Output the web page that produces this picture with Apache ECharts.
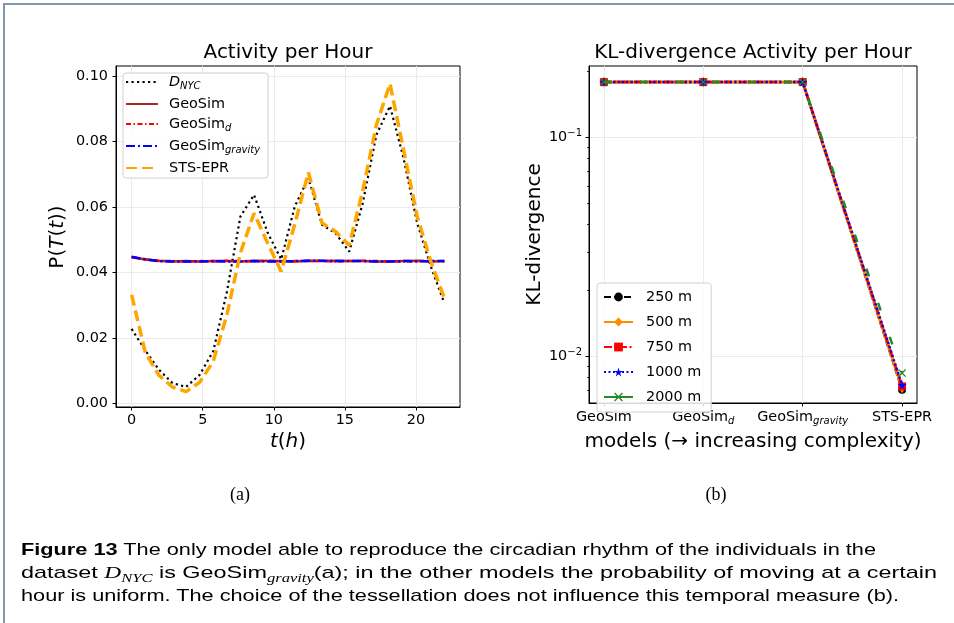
<!DOCTYPE html>
<html><head><meta charset="utf-8">
<script src="https://cdn.jsdelivr.net/npm/echarts@6/dist/echarts.min.js"></script>
<style>
html,body{margin:0;padding:0;background:#fff;}
#wrap{position:relative;width:954px;height:623px;overflow:hidden;background:#fff;}
#chart{position:absolute;left:0;top:0;width:954px;height:623px;}
#frame{position:absolute;left:3px;top:3px;right:-10px;bottom:-10px;border-top:2px solid #7f96b4;border-left:2px solid #7f96b4;pointer-events:none;}
.cap{position:absolute;left:21px;white-space:nowrap;font-family:'Liberation Sans',Arial,sans-serif;font-size:17px;color:#000;transform-origin:0 50%;line-height:22px;}
.m{font-family:'Liberation Serif','DejaVu Serif',serif;font-style:italic;}
.sub{font-size:12px;position:relative;top:4px;}
.lab{position:absolute;font-family:'Liberation Serif','DejaVu Serif',serif;font-size:18px;transform:translate(-50%,-50%);white-space:nowrap;}
</style></head>
<body>
<div id="wrap">
<div id="chart"></div>
<div id="frame"></div>
<div class="lab" style="left:240px;top:494px">(a)</div>
<div class="lab" style="left:716px;top:494px">(b)</div>
<div class="cap" id="c1" style="top:539px"><b>Figure 13</b> The only model able to reproduce the circadian rhythm of the individuals in the</div>
<div class="cap" id="c2" style="top:562px">dataset <span class="m">D<span class="sub">NYC</span></span> is GeoSim<span class="m sub">gravity</span>(a); in the other models the probability of moving at a certain</div>
<div class="cap" id="c3" style="top:585px">hour is uniform. The choice of the tessellation does not influence this temporal measure (b).</div>
</div>
<script>
// ---------- data ----------
const hours = [0, 0.9565, 1.9130, 2.8696, 3.8261, 4.7826, 5.7391, 6.6957, 7.6522, 8.6087, 9.5652, 10.5217,
  11.4783, 12.4348, 13.3913, 14.3478, 15.3043, 16.2609, 17.2174, 18.1739, 19.1304, 20.0870, 21.0435, 22];
const dNYC = [0.0228, 0.0163, 0.0104, 0.0063, 0.0051, 0.0088, 0.0160, 0.0340, 0.0571, 0.0637, 0.0522, 0.0440,
  0.0602, 0.0688, 0.0546, 0.0520, 0.0464, 0.0612, 0.0820, 0.0908, 0.0749, 0.0551, 0.0419, 0.0307];
const geoSim = [0.0447, 0.0440, 0.0436, 0.0434, 0.0435, 0.0434, 0.0435, 0.0435, 0.0434, 0.0436, 0.0435, 0.0435,
  0.0434, 0.0436, 0.0435, 0.0436, 0.0435, 0.0435, 0.0434, 0.0434, 0.0435, 0.0436, 0.0434, 0.0435];
const geoSimD = [0.0447, 0.0441, 0.0435, 0.0435, 0.0434, 0.0435, 0.0434, 0.0436, 0.0435, 0.0434, 0.0436, 0.0434,
  0.0435, 0.0435, 0.0436, 0.0434, 0.0435, 0.0436, 0.0435, 0.0434, 0.0434, 0.0435, 0.0435, 0.0434];
const geoSimGravity = [0.0448, 0.0440, 0.0435, 0.0434, 0.0434, 0.0434, 0.0435, 0.0434, 0.0434, 0.0435, 0.0434, 0.0434,
  0.0435, 0.0436, 0.0436, 0.0435, 0.0435, 0.0435, 0.0434, 0.0434, 0.0435, 0.0434, 0.0435, 0.0435];
const stsEpr = [0.0332, 0.0157, 0.0087, 0.0051, 0.0037, 0.0065, 0.0129, 0.0270, 0.0460, 0.0581, 0.0490, 0.0403,
  0.0548, 0.0705, 0.0551, 0.0525, 0.0483, 0.0650, 0.0850, 0.0976, 0.0774, 0.0571, 0.0434, 0.0322];
const hourTicks = [0, 5, 10, 15, 20];
const probTicks = [0, 0.02, 0.04, 0.06, 0.08, 0.10];

const models = ['GeoSim', 'GeoSim_d', 'GeoSim_gravity', 'STS-EPR'];
const modelPos = [0, 1, 2, 3];
const kl250 = [0.179, 0.179, 0.179, 0.00705];
const kl500 = [0.179, 0.179, 0.179, 0.0072];
const kl750 = [0.179, 0.179, 0.179, 0.0073];
const kl1000 = [0.179, 0.179, 0.179, 0.0074];
const kl2000 = [0.179, 0.179, 0.179, 0.0084];
const klMajorTicks = [0.01, 0.1];
const klMinorTicks = [0.007, 0.008, 0.009, 0.02, 0.03, 0.04, 0.05, 0.06, 0.07, 0.08, 0.09, 0.2];

// ---------- helpers ----------
const FONT = 'DejaVu Sans';
const pairs = (xs, ys) => xs.map((x, i) => [x, ys[i]]);
const STAR = 'path://M50,0 L61.2,34.5 L97.6,34.5 L68.2,55.9 L79.4,90.5 L50,69.1 L20.6,90.5 L31.8,55.9 L2.4,34.5 L38.8,34.5 Z';
const XMARK = 'path://M0,11 L11,0 L50,39 L89,0 L100,11 L61,50 L100,89 L89,100 L50,61 L11,100 L0,89 L39,50 Z';

const richBase = {
  n: {fontFamily: FONT, fontSize: 14.4, color: '#000', lineHeight: 18},
  i: {fontFamily: FONT, fontSize: 14.4, color: '#000', lineHeight: 18, fontStyle: 'italic'},
  s: {fontFamily: FONT, fontSize: 10, color: '#000', lineHeight: 10, fontStyle: 'italic', verticalAlign: 'bottom'},
  p: {fontFamily: FONT, fontSize: 10, color: '#000', lineHeight: 10, verticalAlign: 'top'}
};
const richBig = {
  n: {fontFamily: FONT, fontSize: 20, color: '#000', lineHeight: 24},
  i: {fontFamily: FONT, fontSize: 20, color: '#000', lineHeight: 24, fontStyle: 'italic'}
};
function subLabel(name) {
  const k = name.indexOf('_');
  if (k < 0) return '{n|' + name + '}';
  return '{n|' + name.slice(0, k) + '}{s|' + name.slice(k + 1) + '}';
}
const leftLegendText = {
  'DNYC': '{i|D}{s|NYC}', 'GeoSim': '{n|GeoSim}', 'GeoSim_d': '{n|GeoSim}{s|d}',
  'GeoSim_gravity': '{n|GeoSim}{s|gravity}', 'STS-EPR': '{n|STS-EPR}'
};

const axisLineStyle = {show: true, onZero: false, lineStyle: {color: '#000', width: 1}};
const gridLine = {show: true, lineStyle: {color: '#ebebeb', width: 1}};
const tickStyle = {show: true, length: 3.5, lineStyle: {color: '#000', width: 1}};

function lineSeries(name, ys, lineStyle, z) {
  return {name, type: 'line', xAxisIndex: 0, yAxisIndex: 0, data: pairs(hours, ys), symbol: 'none',
    lineStyle, itemStyle: {color: lineStyle.color}, z, silent: true, emphasis: {disabled: true}};
}
function klSeries(name, ys, color, symbol, symbolSize, lineStyle, z) {
  return {name, type: 'line', xAxisIndex: 1, yAxisIndex: 1, data: pairs(modelPos, ys), symbol, symbolSize,
    showSymbol: true, itemStyle: {color}, lineStyle: Object.assign({color}, lineStyle), z, silent: true,
    emphasis: {disabled: true}};
}

const option = {
  animation: false,
  backgroundColor: 'transparent',
  grid: [
    {left: 116, top: 66, width: 344, height: 341, show: true, borderColor: '#000', borderWidth: 1, outerBoundsMode: 'none'},
    {left: 589, top: 66, width: 328, height: 337, show: true, borderColor: '#000', borderWidth: 1, outerBoundsMode: 'none'}
  ],
  xAxis: [
    {gridIndex: 0, type: 'value', min: -1.1, max: 23.1, axisLine: axisLineStyle,
      axisTick: Object.assign({customValues: hourTicks}, tickStyle),
      axisLabel: {customValues: hourTicks, color: '#000', fontFamily: FONT, fontSize: 14.4, margin: 6},
      splitLine: gridLine},
    {gridIndex: 1, type: 'value', min: -0.15, max: 3.15, axisLine: axisLineStyle,
      axisTick: Object.assign({customValues: modelPos}, tickStyle),
      axisLabel: {customValues: modelPos, margin: 5, formatter: v => subLabel(models[Math.round(v)]), rich: richBase},
      splitLine: gridLine}
  ],
  yAxis: [
    {gridIndex: 0, type: 'value', min: -0.001, max: 0.103, axisLine: axisLineStyle,
      axisTick: Object.assign({customValues: probTicks}, tickStyle),
      axisLabel: {customValues: probTicks, color: '#000', fontFamily: FONT, fontSize: 14.4, margin: 8,
        formatter: v => v.toFixed(2)},
      splitLine: gridLine},
    {gridIndex: 1, type: 'log', logBase: 10, min: 0.006131, max: 0.212, position: 'left', axisLine: axisLineStyle,
      axisTick: Object.assign({customValues: klMajorTicks}, tickStyle),
      axisLabel: {customValues: klMajorTicks, margin: 7,
        formatter: v => '{n|10}{p|' + (v < 0.03 ? '\u22122' : '\u22121') + '}', rich: richBase},
      splitLine: gridLine, minorTick: {show: false}},
    {gridIndex: 1, type: 'log', logBase: 10, min: 0.006131, max: 0.212, position: 'left',
      axisLine: {show: false, onZero: false},
      axisTick: {show: true, customValues: klMinorTicks, length: 2, lineStyle: {color: '#000', width: 0.8}},
      axisLabel: {show: false, customValues: klMinorTicks}, splitLine: {show: false}}
  ],
  legend: [
    {orient: 'vertical', left: 123, top: 73, itemWidth: 32, itemHeight: 14, itemGap: 6,
      padding: [2, 8, 3, 2], backgroundColor: 'rgba(255,255,255,0.85)', borderColor: '#d0d0d0', borderWidth: 1,
      borderRadius: 3, selectedMode: false, itemStyle: {opacity: 0},
      data: ['DNYC', 'GeoSim', 'GeoSim_d', 'GeoSim_gravity', 'STS-EPR'],
      formatter: name => leftLegendText[name],
      textStyle: {padding: [0, 0, 0, 6], rich: richBase}},
    {orient: 'vertical', left: 597, top: 283, itemWidth: 29, itemHeight: 11, itemGap: 11,
      padding: [7, 10, 8, 6], backgroundColor: 'rgba(255,255,255,0.85)', borderColor: '#d0d0d0', borderWidth: 1,
      borderRadius: 3, selectedMode: false,
      data: ['250 m', '500 m', '750 m', '1000 m', {name: '2000 m', lineStyle: {type: 'solid'}}],
      textStyle: {color: '#000', fontFamily: FONT, fontSize: 14.4, padding: [0, 0, 0, 8]}}
  ],
  graphic: [
    {type: 'text', x: 288, y: 53, style: {text: 'Activity per Hour', font: '20px "DejaVu Sans"', fill: '#000',
      textAlign: 'center', align: 'center', textVerticalAlign: 'middle', verticalAlign: 'middle'}},
    {type: 'text', x: 753, y: 53, style: {text: 'KL-divergence Activity per Hour', font: '20px "DejaVu Sans"', fill: '#000',
      textAlign: 'center', align: 'center', textVerticalAlign: 'middle', verticalAlign: 'middle'}},
    {type: 'text', x: 288, y: 442, style: {text: '{i|t}{n|(}{i|h}{n|)}', rich: richBig,
      textAlign: 'center', align: 'center', textVerticalAlign: 'middle', verticalAlign: 'middle'}},
    {type: 'text', x: 753, y: 442, style: {text: 'models (\u2192 increasing complexity)', font: '20px "DejaVu Sans"', fill: '#000',
      textAlign: 'center', align: 'center', textVerticalAlign: 'middle', verticalAlign: 'middle'}},
    {type: 'text', x: 58, y: 237, rotation: Math.PI / 2, style: {text: '{n|P(}{i|T}{n|(}{i|t}{n|))}', rich: richBig,
      textAlign: 'center', align: 'center', textVerticalAlign: 'middle', verticalAlign: 'middle'}},
    {type: 'text', x: 535, y: 234.5, rotation: Math.PI / 2, style: {text: 'KL-divergence', font: '20px "DejaVu Sans"', fill: '#000',
      textAlign: 'center', align: 'center', textVerticalAlign: 'middle', verticalAlign: 'middle'}}
  ],
  series: [
    lineSeries('DNYC', dNYC, {color: '#000', width: 2.2, type: [2.2, 3.3]}, 2),
    lineSeries('GeoSim', geoSim, {color: '#a52a2a', width: 2.5, type: 'solid'}, 3),
    lineSeries('GeoSim_d', geoSimD, {color: '#ff0000', width: 2.5, type: [5, 2.5, 1.5, 2.5]}, 4),
    lineSeries('GeoSim_gravity', geoSimGravity, {color: '#0000ff', width: 2.5, type: [9, 3, 2, 3]}, 5),
    lineSeries('STS-EPR', stsEpr, {color: '#ffa500', width: 3.5, type: [11, 5]}, 6),
    klSeries('250 m', kl250, '#000000', 'circle', 8, {width: 2.5, type: [7, 3]}, 2),
    klSeries('500 m', kl500, '#ff8c00', 'diamond', [7, 11], {width: 3.2, type: 'solid'}, 3),
    klSeries('750 m', kl750, '#ff0000', 'rect', 8, {width: 2.5, type: [8, 2.5, 2, 2.5]}, 4),
    klSeries('1000 m', kl1000, '#0000ff', STAR, 9, {width: 2.5, type: [2, 2.5]}, 5),
    klSeries('2000 m', kl2000, '#228b22', XMARK, 8, {width: 2.5, type: [8, 28]}, 6)
  ]
};

const chart = echarts.init(document.getElementById('chart'), null, {renderer: 'canvas'});
chart.setOption(option);

// fit caption lines to the reference widths
const capTargets = {c1: 855, c2: 916, c3: 878};
Object.keys(capTargets).forEach(id => {
  const el = document.getElementById(id);
  const w = el.getBoundingClientRect().width;
  if (w > 0) el.style.transform = 'scaleX(' + (capTargets[id] / w) + ')';
});
</script>
</body></html>
